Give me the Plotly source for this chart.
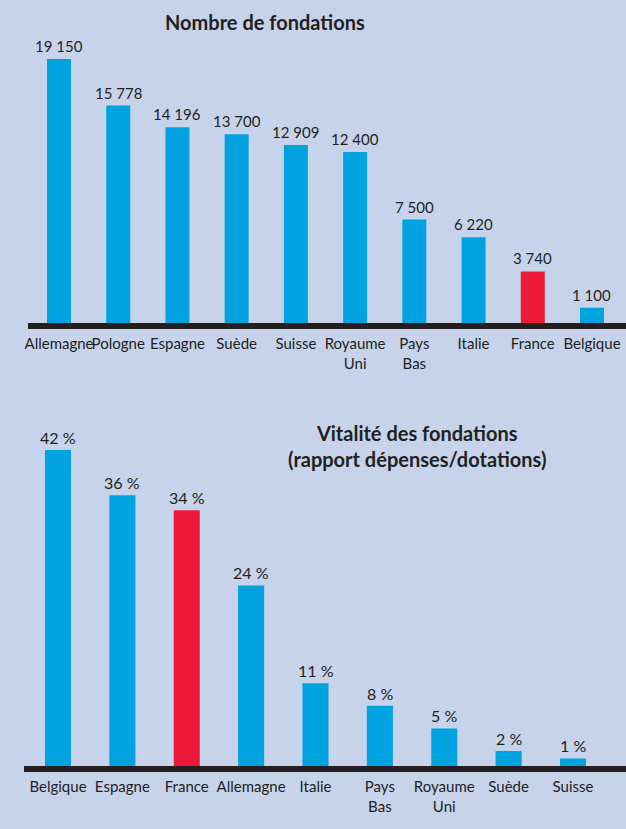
import plotly.graph_objects as go

# ---- data ----
pays_nombre = ["Allemagne", "Pologne", "Espagne", "Suède", "Suisse",
               "Royaume<br>Uni", "Pays<br>Bas", "Italie", "France", "Belgique"]
nombre_fondations = [19150, 15778, 14196, 13700, 12909, 12400, 7500, 6220, 3740, 1100]

pays_vitalite = ["Belgique", "Espagne", "France", "Allemagne", "Italie",
                 "Pays<br>Bas", "Royaume<br>Uni", "Suède", "Suisse"]
vitalite_pct = [42, 36, 34, 24, 11, 8, 5, 2, 1]

titre_1 = "Nombre de fondations"
titre_2 = "Vitalité des fondations<br>(rapport dépenses/dotations)"

# ---- style ----
W, H = 626, 829
BG = "#c6d3ea"
BLUE = "#00a3e0"
RED = "#ee1a3b"
INK = "#231f20"
FONT = "Lato"

def py(pix):  # pixel y -> paper y
    return 1 - pix / H

def px(pix):  # pixel x -> paper x
    return pix / W

def colors(cats):
    return [RED if c == "France" else BLUE for c in cats]

fig = go.Figure()
fig.add_trace(go.Bar(x=pays_nombre, y=nombre_fondations, marker_color=colors(pays_nombre),
                     marker_line_width=0, xaxis="x", yaxis="y", hoverinfo="skip"))
fig.add_trace(go.Bar(x=pays_vitalite, y=vitalite_pct, marker_color=colors(pays_vitalite),
                     marker_line_width=0, xaxis="x2", yaxis="y2", hoverinfo="skip"))

annotations = []
for c, v in zip(pays_nombre, nombre_fondations):
    annotations.append(dict(x=c, y=v, xref="x", yref="y", text=f"{v:,}".replace(",", " "),
                            showarrow=False, yanchor="bottom", yshift=2,
                            font=dict(family=FONT, size=15, color=INK)))
for c, v in zip(pays_vitalite, vitalite_pct):
    annotations.append(dict(x=c, y=v, xref="x2", yref="y2", text=f"{v} %",
                            showarrow=False, yanchor="bottom", yshift=1,
                            font=dict(family=FONT, size=16, color=INK)))
annotations.append(dict(x=px(265), y=py(22), xref="paper", yref="paper", text=f"<b>{titre_1}</b>",
                        showarrow=False, xanchor="center", yanchor="middle",
                        font=dict(family=FONT, size=20, color=INK)))
annotations.append(dict(x=px(417), y=py(446), xref="paper", yref="paper", text=f"<b>{titre_2}</b>",
                        showarrow=False, xanchor="center", yanchor="middle",
                        font=dict(family=FONT, size=20, color=INK)))

shapes = [
    dict(type="rect", xref="paper", yref="paper", x0=px(28), x1=px(W + 5), y0=py(329), y1=py(323),
         fillcolor=INK, line_width=0, layer="above"),
    dict(type="rect", xref="paper", yref="paper", x0=px(24), x1=px(W + 5), y0=py(772), y1=py(766),
         fillcolor=INK, line_width=0, layer="above"),
]

axis_common = dict(showgrid=False, zeroline=False, showline=False, ticks="", tickangle=0,
                   tickfont=dict(family=FONT, size=15, color=INK), fixedrange=True)

fig.update_layout(
    width=W, height=H,
    margin=dict(l=0, r=0, t=0, b=0, autoexpand=False),
    paper_bgcolor=BG, plot_bgcolor=BG,
    showlegend=False,
    bargap=0.595,
    xaxis=dict(domain=[px(29.4), px(621.6)], anchor="y", ticklabelstandoff=10, automargin=False, **axis_common),
    yaxis=dict(domain=[py(323), py(40)], range=[0, 20530], visible=False, anchor="x"),
    xaxis2=dict(domain=[px(25.8), px(605.2)], anchor="y2", ticklabelstandoff=10, automargin=False, **axis_common),
    yaxis2=dict(domain=[py(766), py(420)], range=[0, 46], visible=False, anchor="x2"),
    annotations=annotations,
    shapes=shapes,
)

fig.write_html("out.html", config={"displayModeBar": False},
               post_script="document.body.style.margin='0';document.body.style.overflow='hidden';")
